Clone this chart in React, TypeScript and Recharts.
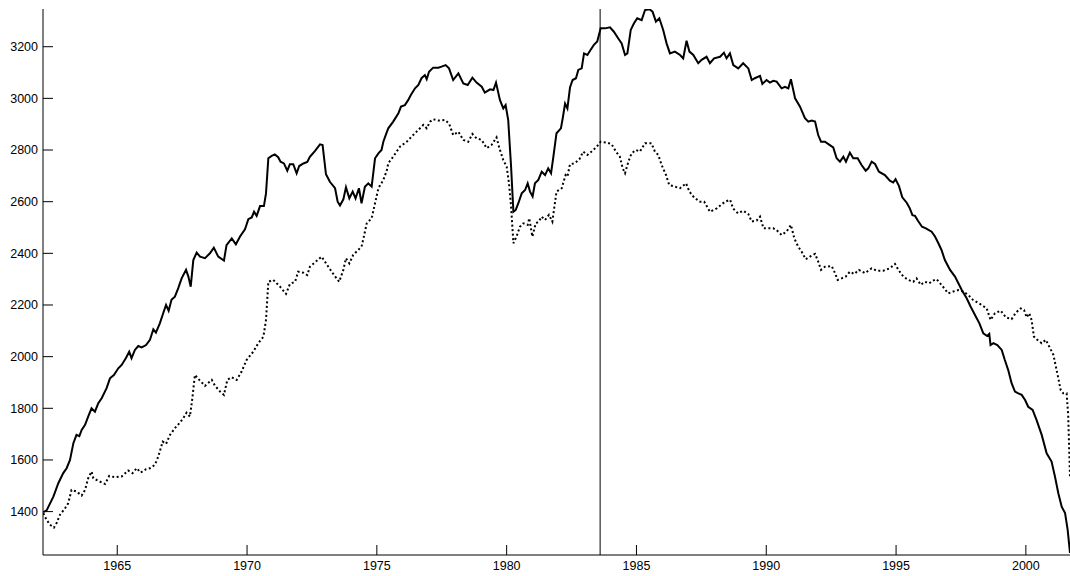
import React from "react";
import { LineChart, Line, XAxis, YAxis, ReferenceLine } from "recharts";

// solid series (years, values)
const solidYears = [
  1962.15, 1962.28, 1962.54, 1962.73, 1962.92, 1963.05, 1963.18, 1963.31, 1963.43, 1963.54,
  1963.63, 1963.76, 1963.88, 1964.01, 1964.14, 1964.27, 1964.4, 1964.59, 1964.72, 1964.87,
  1965.04, 1965.17, 1965.33, 1965.46, 1965.55, 1965.68, 1965.81, 1965.94, 1966.11, 1966.26,
  1966.39, 1966.49, 1966.64, 1966.77, 1966.88, 1966.98, 1967.09, 1967.22, 1967.35, 1967.48,
  1967.65, 1967.74, 1967.83, 1967.93, 1968.06, 1968.19, 1968.38, 1968.57, 1968.72, 1968.89,
  1969.11, 1969.21, 1969.41, 1969.57, 1969.73, 1969.92, 1970.05, 1970.18, 1970.27, 1970.37,
  1970.5, 1970.65, 1970.73, 1970.82, 1970.95, 1971.07, 1971.2, 1971.29, 1971.42, 1971.55,
  1971.65, 1971.78, 1971.91, 1972.01, 1972.17, 1972.32, 1972.42, 1972.62, 1972.81, 1972.91,
  1973.04, 1973.19, 1973.39, 1973.49, 1973.58, 1973.71, 1973.81, 1973.94, 1974.07, 1974.18,
  1974.31, 1974.41, 1974.54, 1974.67, 1974.8, 1974.93, 1975.06, 1975.18, 1975.25, 1975.38,
  1975.44, 1975.63, 1975.83, 1975.93, 1976.08, 1976.21, 1976.31, 1976.47, 1976.6, 1976.72,
  1976.85, 1976.92, 1977.01, 1977.17, 1977.37, 1977.49, 1977.65, 1977.78, 1977.94, 1978.14,
  1978.33, 1978.5, 1978.68, 1978.84, 1979.04, 1979.16, 1979.36, 1979.49, 1979.59, 1979.74,
  1979.87, 1979.96, 1980.06, 1980.17, 1980.26, 1980.35, 1980.45, 1980.58, 1980.71, 1980.81,
  1980.9, 1981.0, 1981.09, 1981.22, 1981.35, 1981.48, 1981.6, 1981.71, 1981.8, 1981.92,
  1982.09, 1982.16, 1982.25, 1982.34, 1982.44, 1982.54, 1982.67, 1982.76, 1982.89, 1982.98,
  1983.11, 1983.23, 1983.36, 1983.49, 1983.62, 1983.79, 1983.98, 1984.13, 1984.3, 1984.43,
  1984.56, 1984.65, 1984.78, 1984.9, 1985.03, 1985.2, 1985.33, 1985.5, 1985.62, 1985.75,
  1985.88, 1986.03, 1986.16, 1986.29, 1986.48, 1986.68, 1986.8, 1986.93, 1987.04, 1987.19,
  1987.38, 1987.51, 1987.7, 1987.83, 1987.99, 1988.22, 1988.37, 1988.47, 1988.6, 1988.73,
  1988.92, 1989.11, 1989.31, 1989.44, 1989.56, 1989.76, 1989.85, 1990.01, 1990.14, 1990.27,
  1990.4, 1990.59, 1990.72, 1990.85, 1990.95, 1991.11, 1991.3, 1991.49, 1991.62, 1991.75,
  1991.88, 1992.0, 1992.11, 1992.26, 1992.45, 1992.58, 1992.71, 1992.84, 1992.97, 1993.07,
  1993.22, 1993.35, 1993.52, 1993.67, 1993.83, 1993.93, 1994.06, 1994.19, 1994.34, 1994.57,
  1994.76, 1994.89, 1994.98, 1995.11, 1995.24, 1995.41, 1995.53, 1995.63, 1995.73, 1995.85,
  1996.0, 1996.15, 1996.37, 1996.5, 1996.63, 1996.75, 1996.88, 1997.08, 1997.27, 1997.4,
  1997.53, 1997.72, 1997.87, 1998.04, 1998.21, 1998.36, 1998.51, 1998.59, 1998.64, 1998.75,
  1998.9, 1999.07, 1999.19, 1999.32, 1999.45, 1999.58, 1999.71, 1999.84, 1999.97, 2000.09,
  2000.26, 2000.41, 2000.61, 2000.8, 2000.99, 2001.12, 2001.25, 2001.38, 2001.51, 2001.61,
  2001.7,
];
const solidValues = [
  1398, 1405, 1458, 1510, 1549, 1568, 1600, 1665, 1697, 1692,
  1716, 1736, 1768, 1800, 1787, 1820, 1839, 1878, 1916, 1929,
  1955, 1968, 1994, 2019, 1994, 2026, 2041, 2036, 2045, 2065,
  2106, 2093, 2129, 2168, 2200, 2178, 2220, 2232, 2265, 2303,
  2336, 2310, 2271, 2374, 2403, 2387, 2381, 2400, 2422, 2387,
  2372, 2432, 2458, 2435, 2465, 2493, 2532, 2539, 2561, 2545,
  2583, 2583, 2632, 2768, 2777, 2783, 2772, 2755, 2748, 2720,
  2745, 2745, 2710, 2738, 2748, 2754, 2774, 2797, 2822, 2819,
  2706, 2677, 2652, 2600, 2585, 2609, 2656, 2613, 2639, 2613,
  2652, 2594, 2658, 2671, 2658, 2768, 2787, 2800, 2832, 2868,
  2884, 2910, 2942, 2968, 2974, 2994, 3013, 3039, 3052, 3078,
  3090, 3074, 3103, 3119, 3119, 3123, 3129, 3116, 3071, 3097,
  3058, 3052, 3080, 3061, 3045, 3022, 3035, 3032, 3061, 2994,
  2961, 2974, 2916, 2736, 2561, 2568, 2594, 2632, 2645, 2671,
  2639, 2620, 2671, 2684, 2716, 2703, 2729, 2710, 2774, 2865,
  2884, 2923, 2980, 2961, 3042, 3071, 3078, 3110, 3116, 3174,
  3168, 3187, 3207, 3220, 3271, 3271, 3275, 3258, 3232, 3213,
  3168, 3174, 3265, 3290, 3310, 3303, 3342, 3345, 3336, 3297,
  3310, 3265, 3213, 3174, 3181, 3168, 3155, 3223, 3181, 3168,
  3136, 3149, 3161, 3136, 3155, 3161, 3177, 3155, 3174, 3129,
  3116, 3136, 3116, 3071, 3078, 3087, 3056, 3071, 3061, 3068,
  3065, 3039, 3045, 3039, 3074, 3000, 2968, 2923, 2910, 2914,
  2910, 2858, 2832, 2832, 2819, 2810, 2768, 2755, 2774, 2755,
  2790, 2768, 2768, 2742, 2720, 2729, 2755, 2746, 2716, 2703,
  2681, 2674, 2687, 2661, 2617, 2596, 2574, 2548, 2545, 2525,
  2503, 2497, 2484, 2465, 2439, 2413, 2374, 2336, 2310, 2284,
  2258, 2226, 2194, 2161, 2129, 2090, 2080, 2088, 2045, 2052,
  2045, 2026, 1987, 1948, 1897, 1865, 1858, 1852, 1832, 1806,
  1794, 1755, 1697, 1626, 1594, 1536, 1471, 1419, 1394, 1329,
  1240,
];

// dotted series (years, values)
const dottedYears = [
  1962.15, 1962.28, 1962.41, 1962.56, 1962.66, 1962.79, 1962.99, 1963.11, 1963.24, 1963.43,
  1963.63, 1963.76, 1963.88, 1964.01, 1964.08, 1964.27, 1964.53, 1964.69, 1964.91, 1965.17,
  1965.42, 1965.59, 1965.75, 1965.9, 1966.11, 1966.26, 1966.45, 1966.58, 1966.75, 1966.88,
  1967.03, 1967.22, 1967.39, 1967.54, 1967.67, 1967.8, 1967.9, 1967.99, 1968.16, 1968.38,
  1968.64, 1968.76, 1968.96, 1969.11, 1969.24, 1969.41, 1969.6, 1969.79, 1969.98, 1970.24,
  1970.43, 1970.63, 1970.73, 1970.82, 1971.01, 1971.27, 1971.5, 1971.65, 1971.85, 1971.97,
  1972.17, 1972.32, 1972.42, 1972.65, 1972.87, 1973.13, 1973.35, 1973.55, 1973.71, 1973.81,
  1973.94, 1974.09, 1974.22, 1974.41, 1974.5, 1974.61, 1974.8, 1974.93, 1975.06, 1975.25,
  1975.38, 1975.44, 1975.63, 1975.89, 1976.15, 1976.34, 1976.6, 1976.79, 1976.92, 1977.05,
  1977.17, 1977.37, 1977.62, 1977.78, 1977.94, 1978.14, 1978.33, 1978.52, 1978.68, 1978.84,
  1979.04, 1979.23, 1979.42, 1979.61, 1979.72, 1979.87, 1980.0, 1980.09, 1980.17, 1980.26,
  1980.38, 1980.51, 1980.64, 1980.81, 1980.87, 1980.99, 1981.12, 1981.24, 1981.35, 1981.48,
  1981.63, 1981.76, 1981.92, 1982.12, 1982.27, 1982.34, 1982.44, 1982.63, 1982.8, 1982.95,
  1983.11, 1983.27, 1983.47, 1983.62, 1983.85, 1984.04, 1984.21, 1984.36, 1984.47, 1984.56,
  1984.69, 1984.81, 1984.98, 1985.13, 1985.33, 1985.58, 1985.71, 1985.84, 1985.97, 1986.14,
  1986.26, 1986.48, 1986.68, 1986.91, 1987.04, 1987.19, 1987.42, 1987.61, 1987.83, 1988.09,
  1988.41, 1988.61, 1988.72, 1988.91, 1989.11, 1989.31, 1989.44, 1989.63, 1989.76, 1989.89,
  1990.08, 1990.27, 1990.4, 1990.59, 1990.78, 1990.95, 1991.08, 1991.23, 1991.36, 1991.52,
  1991.68, 1991.88, 1992.0, 1992.11, 1992.26, 1992.52, 1992.65, 1992.75, 1992.9, 1993.06,
  1993.22, 1993.39, 1993.57, 1993.8, 1994.06, 1994.25, 1994.51, 1994.76, 1994.96, 1995.09,
  1995.28, 1995.47, 1995.66, 1995.79, 1995.95, 1996.11, 1996.28, 1996.41, 1996.56, 1996.75,
  1997.01, 1997.2, 1997.4, 1997.59, 1997.78, 1997.97, 1998.23, 1998.49, 1998.64, 1998.81,
  1999.03, 1999.23, 1999.45, 1999.62, 1999.8, 1999.93, 2000.03, 2000.13, 2000.22, 2000.31,
  2000.44, 2000.61, 2000.77, 2000.9, 2001.06, 2001.21, 2001.34, 2001.44, 2001.57, 2001.63,
  2001.7,
];
const dottedValues = [
  1394, 1368, 1349, 1338, 1355, 1387, 1413, 1432, 1484, 1478,
  1462, 1484, 1529, 1555, 1529, 1519, 1507, 1538, 1533, 1536,
  1559, 1549, 1568, 1551, 1564, 1568, 1581, 1613, 1671, 1662,
  1697, 1723, 1742, 1761, 1783, 1768, 1845, 1929, 1910, 1887,
  1910, 1888, 1865, 1852, 1910, 1920, 1910, 1942, 1987, 2019,
  2052, 2077, 2142, 2290, 2297, 2271, 2243, 2281, 2290, 2329,
  2325, 2316, 2348, 2368, 2387, 2348, 2316, 2290, 2336, 2381,
  2361, 2394, 2407, 2426, 2465, 2516, 2536, 2594, 2652, 2684,
  2720, 2749, 2774, 2813, 2832, 2852, 2878, 2897, 2884, 2910,
  2919, 2914, 2916, 2903, 2858, 2871, 2839, 2832, 2862, 2845,
  2839, 2807, 2820, 2849, 2807, 2761, 2736, 2671, 2581, 2439,
  2465, 2503, 2516, 2510, 2536, 2465, 2516, 2523, 2542, 2529,
  2549, 2523, 2639, 2652, 2703, 2697, 2745, 2749, 2764, 2794,
  2781, 2794, 2813, 2832, 2829, 2823, 2794, 2774, 2729, 2710,
  2755, 2787, 2800, 2794, 2826, 2826, 2794, 2781, 2742, 2703,
  2665, 2658, 2652, 2671, 2639, 2620, 2600, 2600, 2561, 2574,
  2600, 2607, 2574, 2555, 2565, 2552, 2523, 2527, 2542, 2497,
  2497, 2497, 2490, 2471, 2484, 2510, 2458, 2426, 2407, 2377,
  2387, 2398, 2368, 2336, 2348, 2351, 2323, 2297, 2303, 2310,
  2329, 2320, 2336, 2323, 2342, 2333, 2333, 2342, 2359, 2336,
  2310, 2297, 2290, 2303, 2278, 2290, 2284, 2294, 2300, 2278,
  2245, 2252, 2258, 2252, 2239, 2219, 2204, 2187, 2142, 2168,
  2178, 2152, 2145, 2171, 2187, 2181, 2152, 2168, 2142, 2078,
  2065, 2052, 2065, 2039, 2007, 1936, 1871, 1858, 1858, 1774,
  1536,
];

const xTicks = [1965, 1970, 1975, 1980, 1985, 1990, 1995, 2000];
const yTicks = [1400, 1600, 1800, 2000, 2200, 2400, 2600, 2800, 3000, 3200];
const markerYear = 1983.6;

const solidData = solidYears.map((t, i) => ({ t, v: solidValues[i] }));
const dottedData = dottedYears.map((t, i) => ({ t, v: dottedValues[i] }));

const font = "'Liberation Sans', Arial, sans-serif";

function YTick(props: any) {
  const { x, y, payload } = props;
  return (
    <g>
      <line x1={x + 5} x2={x + 15} y1={y} y2={y} stroke="#000" strokeWidth={1} />
      <text x={x} y={y} dy="0.355em" textAnchor="end" fontSize={12.5} fontFamily={font} fill="#000">
        {payload.value}
      </text>
    </g>
  );
}

function XTick(props: any) {
  const { x, y, payload } = props;
  return (
    <g>
      <line x1={x} x2={x} y1={y - 6} y2={y - 16} stroke="#000" strokeWidth={1} />
      <text x={x} y={y} dy="0.71em" textAnchor="middle" fontSize={12.5} fontFamily={font} fill="#000">
        {payload.value}
      </text>
    </g>
  );
}

export default function App() {
  return (
    <div style={{ position: "absolute", left: 0, top: 0, background: "#fff" }}>
      <LineChart width={1070} height={576} margin={{ top: 9, right: 0, bottom: 0, left: 0 }}>
        <XAxis
          type="number"
          dataKey="t"
          domain={[1962.14, 2001.7]}
          ticks={xTicks}
          allowDataOverflow
          height={21}
          tickSize={0}
          tickMargin={6}
          tick={<XTick />}
          axisLine={{ stroke: "#000", strokeWidth: 1 }}
        />
        <YAxis
          type="number"
          domain={[1232, 3346]}
          ticks={yTicks}
          allowDataOverflow
          width={43}
          tickSize={0}
          tickMargin={5}
          tick={<YTick />}
          axisLine={{ stroke: "#000", strokeWidth: 1 }}
        />
        <ReferenceLine x={markerYear} stroke="#000" strokeWidth={1} />
        <Line
          data={dottedData}
          dataKey="v"
          type="linear"
          stroke="#000"
          strokeWidth={2}
          strokeDasharray="2 2.5"
          dot={false}
          isAnimationActive={false}
        />
        <Line
          data={solidData}
          dataKey="v"
          type="linear"
          stroke="#000"
          strokeWidth={2}
          dot={false}
          isAnimationActive={false}
        />
      </LineChart>
    </div>
  );
}
